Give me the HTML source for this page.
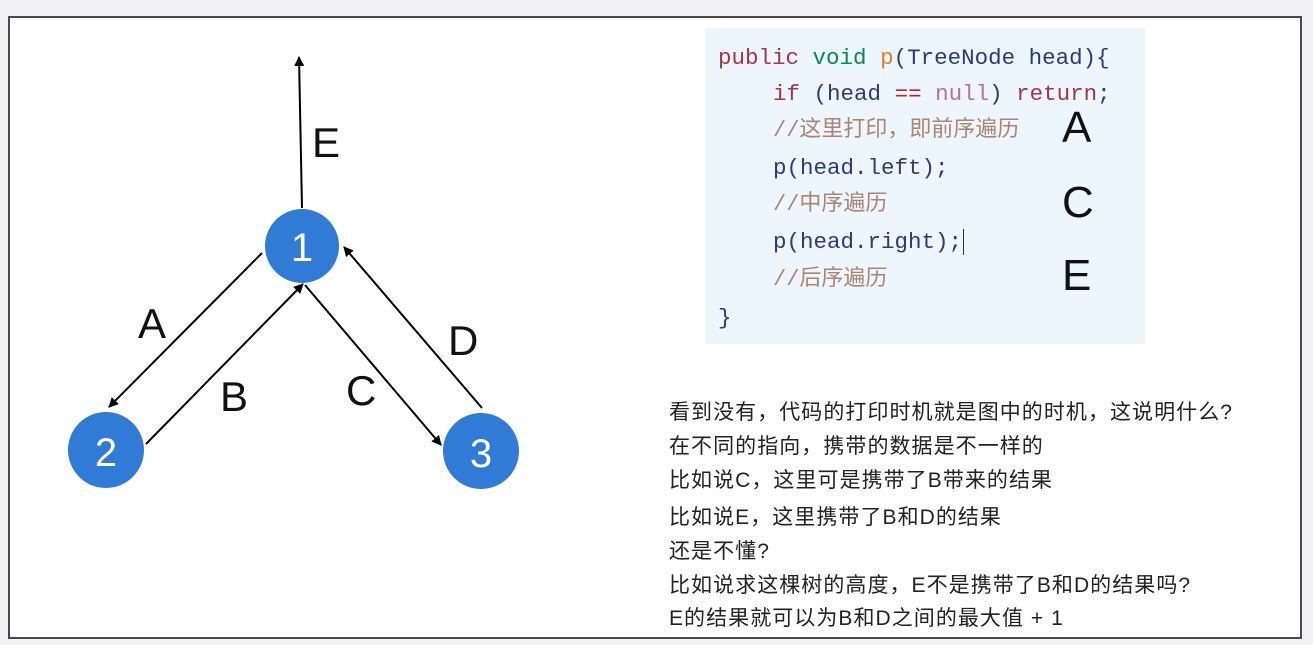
<!DOCTYPE html>
<html><head><meta charset="utf-8"><style>
body{margin:0;width:1313px;height:645px;background:#f2f2f4;position:relative;overflow:hidden;font-family:"Liberation Sans","Noto Sans CJK SC",sans-serif}
.frame{position:absolute;left:8px;top:16px;width:1290px;height:619px;border:2px solid #4a4a4a;background:#fff}
.code{position:absolute;left:705px;top:28px;width:440px;height:316px;background:#eef6fd}
.ln{position:absolute;font-family:"Liberation Mono","Noto Sans CJK SC",monospace;font-size:22.5px;white-space:pre;line-height:24px}
.big{position:absolute;font-size:44px;color:#111;line-height:42px}
.t{position:absolute;left:669px;font-size:21px;letter-spacing:1.05px;color:#222;white-space:nowrap;line-height:24px}
</style></head><body>
<div class="frame"></div>
<svg style="position:absolute;left:0;top:0" width="1313" height="645">
<defs><marker id="a" markerWidth="10" markerHeight="10" refX="9" refY="5" orient="auto" markerUnits="userSpaceOnUse"><path d="M0,0 L10,5 L0,10 z" fill="#000"/></marker></defs>
<g stroke="#000" stroke-width="2" marker-end="url(#a)">
<line x1="302" y1="208" x2="299" y2="57"/>
<line x1="262" y1="253" x2="109" y2="407"/>
<line x1="146" y1="444" x2="303" y2="284"/>
<line x1="305" y1="285" x2="441" y2="445"/>
<line x1="482" y1="408" x2="344" y2="247"/>
</g>
<g fill="#2f7bd6"><circle cx="302" cy="246" r="37"/><circle cx="106" cy="450" r="38"/><circle cx="481" cy="451" r="38"/></g>
<g fill="#fff" font-size="40" text-anchor="middle" font-family="Liberation Sans,sans-serif"><text x="302" y="261">1</text><text x="106" y="466">2</text><text x="481" y="467">3</text></g>
<g fill="#111" font-size="42" font-family="Liberation Sans,sans-serif"><text x="312" y="157">E</text><text x="138" y="338">A</text><text x="220" y="411">B</text><text x="346" y="405">C</text><text x="448" y="355">D</text></g>
</svg>
<div class="code"></div>
<div class="ln" style="left:718px;top:46px"><span style="color:#a8344a">public</span> <span style="color:#0b8a4a">void</span> <span style="color:#d9822b">p</span><span style="color:#2c3a7a">(TreeNode head){</span></div>
<div class="ln" style="left:773px;top:82px"><span style="color:#a8344a">if</span> <span style="color:#2c3a7a">(head</span> <span style="color:#c0202a">==</span> <span style="color:#b070b0">null</span><span style="color:#2c3a7a">)</span> <span style="color:#a8344a">return</span><span style="color:#2c3a7a">;</span></div>
<div class="ln" style="left:773px;top:119px;color:#a98470;font-size:22px">//这里打印，即前序遍历</div>
<div class="ln" style="left:773px;top:156px;color:#2c3a7a">p(head.left);</div>
<div class="ln" style="left:773px;top:193px;color:#a98470;font-size:22px">//中序遍历</div>
<div class="ln" style="left:773px;top:230px;color:#2c3a7a">p(head.right);<span style="border-left:1px solid #333;margin-left:1px"></span></div>
<div class="ln" style="left:773px;top:268px;color:#a98470;font-size:22px">//后序遍历</div>
<div class="ln" style="left:718px;top:306px;color:#2c3a7a">}</div>
<div class="big" style="left:1062px;top:107px">A</div>
<div class="big" style="left:1062px;top:182px">C</div>
<div class="big" style="left:1062px;top:255px">E</div>
<div class="t" style="top:401px">看到没有，代码的打印时机就是图中的时机，这说明什么?</div>
<div class="t" style="top:435px">在不同的指向，携带的数据是不一样的</div>
<div class="t" style="top:469px">比如说C，这里可是携带了B带来的结果</div>
<div class="t" style="top:506px">比如说E，这里携带了B和D的结果</div>
<div class="t" style="top:540px">还是不懂?</div>
<div class="t" style="top:574px">比如说求这棵树的高度，E不是携带了B和D的结果吗?</div>
<div class="t" style="top:607px">E的结果就可以为B和D之间的最大值 + 1</div>
</body></html>
